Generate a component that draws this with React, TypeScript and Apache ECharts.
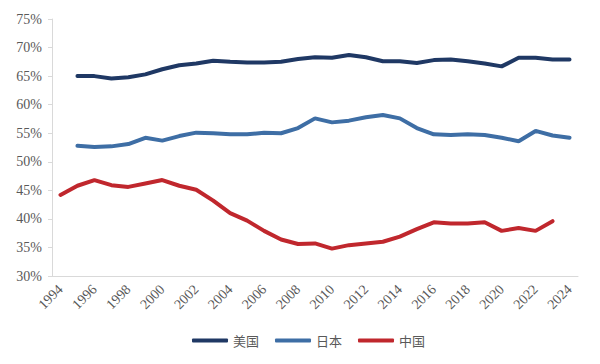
import React, { useEffect, useRef } from "react";
import * as echarts from "echarts";

const years = [
  "1994","1995","1996","1997","1998","1999","2000","2001","2002","2003","2004",
  "2005","2006","2007","2008","2009","2010","2011","2012","2013","2014","2015",
  "2016","2017","2018","2019","2020","2021","2022","2023","2024",
];

// 1994 .. 2024 (1994 missing)
const usValues = [
  null, 65.0, 65.0, 64.6, 64.8, 65.3, 66.2, 66.9, 67.2, 67.7, 67.5, 67.4, 67.4,
  67.5, 68.0, 68.3, 68.2, 68.7, 68.3, 67.6, 67.6, 67.3, 67.8, 67.9, 67.6, 67.2,
  66.7, 68.2, 68.2, 67.9, 67.9,
];
const japanValues = [
  null, 52.8, 52.6, 52.7, 53.1, 54.2, 53.7, 54.5, 55.1, 55.0, 54.8, 54.8, 55.1,
  55.0, 55.9, 57.6, 56.9, 57.2, 57.8, 58.2, 57.6, 55.9, 54.8, 54.7, 54.8, 54.7,
  54.2, 53.6, 55.4, 54.6, 54.2,
];
// 1994 .. 2023
const chinaValues = [
  44.2, 45.8, 46.8, 45.9, 45.6, 46.2, 46.8, 45.8, 45.1, 43.2, 41.0, 39.7, 37.9,
  36.4, 35.6, 35.7, 34.8, 35.4, 35.7, 36.0, 36.9, 38.2, 39.4, 39.2, 39.2, 39.4,
  37.9, 38.4, 37.9, 39.6, null,
];

const seriesNames = ["美国", "日本", "中国"];
const colors = ["#1F3864", "#3E6EA5", "#C0272D"];

export default function App() {
  const ref = useRef<HTMLDivElement>(null);
  useEffect(() => {
    if (!ref.current) return;
    const chart = echarts.init(ref.current, null, { renderer: "svg" });
    const serif = "'Liberation Serif', 'Times New Roman', serif";
    const mk = (i: number, data: (number | null)[]) => ({
      name: seriesNames[i],
      type: "line",
      data,
      symbol: "none",
      lineStyle: { width: 4, color: colors[i], cap: "round" },
      itemStyle: { color: colors[i] },
    });
    chart.setOption({
      animation: false,
      backgroundColor: "#ffffff",
      grid: { left: 52, right: 22, top: 19, bottom: 88 },
      legend: {
        top: 329,
        left: 187,
        icon: "roundRect",
        itemWidth: 36,
        itemHeight: 4,
        itemGap: 16,
        textStyle: {
          fontFamily: "'Noto Sans CJK SC', sans-serif",
          fontSize: 13,
          color: "#595959",
        },
        data: seriesNames,
      },
      xAxis: {
        type: "category",
        data: years,
        boundaryGap: true,
        axisLine: { lineStyle: { color: "#D9D9D9", width: 1 } },
        axisTick: { interval: 1, length: 4, lineStyle: { color: "#D9D9D9" } },
        axisLabel: {
          interval: 1,
          rotate: 45,
          fontFamily: serif,
          fontSize: 14,
          color: "#595959",
          margin: 11,
        },
      },
      yAxis: {
        type: "value",
        min: 30,
        max: 75,
        interval: 5,
        axisLine: { show: true, lineStyle: { color: "#D9D9D9", width: 1 } },
        axisTick: { show: true, length: 4, lineStyle: { color: "#D9D9D9" } },
        splitLine: { show: false },
        axisLabel: {
          formatter: "{value}%",
          fontFamily: serif,
          fontSize: 14,
          color: "#595959",
          margin: 10,
        },
      },
      series: [mk(0, usValues), mk(1, japanValues), mk(2, chinaValues)],
    });
    return () => chart.dispose();
  }, []);
  return <div ref={ref} style={{ width: 600, height: 364, margin: -8 }} />;
}
